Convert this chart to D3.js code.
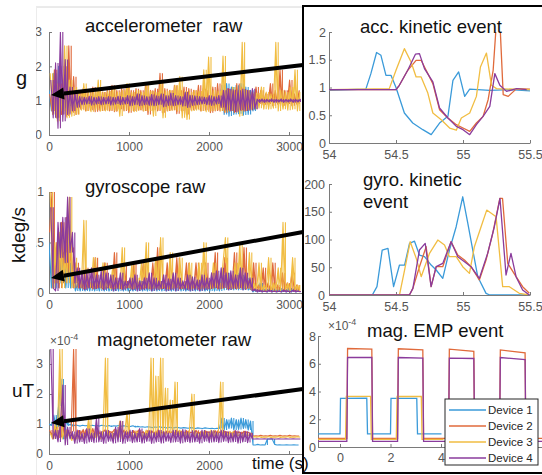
<!DOCTYPE html>
<html><head><meta charset="utf-8">
<script src="https://cdn.jsdelivr.net/npm/d3@7"></script>
<style>body{margin:0;background:#fff}svg{display:block}</style>
</head><body><svg id="c" width="542" height="475"></svg>
<script>
// ---------------- DATA ----------------
const devices = ["Device 1","Device 2","Device 3","Device 4"];
const colors  = ["#3a9ad9","#e06a3b","#f1bd42","#8a3b9c"];
const rawTimeStep = 30;                 // seconds between raw samples
const deviceTimeOffset = [0,7.5,15,22.5]; // devices are not sample-synchronised
const rawTicks = [0,1000,2000,3000];

// accelerometer raw (g)
const accRaw1 = [1.3,0.7,1.8,0.5,2.0,0.6,1.5,0.8,1.2,0.85,1.1,0.9,1.08,0.92,1.06,0.93,1.08,0.92,1.07,0.93,1.08,0.92,1.06,0.94,1.08,0.92,1.06,0.93,1.08,0.92,1.07,0.93,1.08,0.92,1.06,0.94,1.1,0.9,1.08,0.92,1.1,0.9,1.08,0.92,1.1,0.9,1.08,0.92,1.1,0.9,1.08,0.92,1.1,0.9,1.08,0.92,1.1,0.9,1.08,0.92,1.08,0.92,1.07,0.93,1.08,0.92,1.07,0.93,1.08,0.92,1.1,0.85,1.45,0.6,1.5,0.55,1.4,0.6,1.45,0.62,1.5,0.58,1.4,0.6,1.3,0.7,1.05,0.96,1.04,0.96,1.05,0.95,1.04,0.96,1.05,0.95,1.04,0.96,1.05,0.95,1.04,0.96,1.05,0.95,1.04];
const accRaw2 = [1.2,0.7,1.9,0.5,1.5,0.6,2.0,0.55,2.6,0.65,1.7,0.6,1.3,0.75,1.35,0.7,1.25,0.72,1.4,0.68,1.3,0.7,1.25,0.72,1.3,0.7,1.45,0.68,1.3,0.75,1.35,0.7,1.4,0.65,1.3,0.7,1.35,0.72,1.3,0.7,1.5,0.6,1.3,0.72,1.35,0.7,1.8,0.65,1.35,0.7,1.3,0.72,1.45,0.62,1.3,0.7,1.4,0.6,1.35,0.72,1.3,0.75,1.45,0.7,1.35,0.72,1.3,0.65,1.4,0.7,1.5,0.7,1.3,0.65,1.35,0.7,1.3,0.65,1.5,0.7,1.4,0.7,1.3,0.75,1.2,0.85,1.4,0.9,1.3,0.88,1.2,0.9,1.5,0.85,1.3,0.9,1.9,0.85,1.3,0.9,1.6,0.85,1.2,0.9,1.3];
const accRaw3 = [1.8,0.6,1.5,0.4,1.4,0.7,2.6,0.5,1.6,0.55,1.4,0.6,1.28,0.72,1.5,0.7,1.25,0.68,1.3,0.72,1.6,0.7,1.25,0.7,1.28,0.72,1.4,0.7,1.25,0.55,1.3,0.72,1.5,0.7,1.25,0.68,1.3,0.72,1.25,0.7,1.5,0.7,1.28,0.55,1.25,0.72,1.6,0.5,1.28,0.7,1.3,0.72,1.45,0.7,1.7,0.5,1.28,0.45,1.25,0.7,1.3,0.72,1.28,0.7,1.9,0.68,2.27,0.7,1.3,0.72,1.28,0.7,2.3,0.68,1.3,0.7,1.4,0.72,1.3,0.55,2.7,0.7,1.3,0.72,1.25,0.75,1.22,0.78,1.4,0.75,1.25,0.75,1.2,0.78,2.7,0.7,1.3,0.75,1.25,0.72,1.4,0.75,1.9,0.7,1.25];
const accRaw4 = [1.6,0.5,2.1,0.2,3.0,0.4,2.2,0.6,1.4,0.7,1.25,0.8,1.12,0.88,1.1,0.9,1.13,0.87,1.1,0.9,1.12,0.88,1.1,0.9,1.12,0.87,1.1,0.9,1.13,0.88,1.1,0.9,1.15,0.85,1.12,0.88,1.2,0.85,1.15,0.88,1.12,0.86,1.18,0.85,1.14,0.88,1.2,0.82,1.15,0.86,1.22,0.85,1.15,0.88,1.12,0.84,1.25,0.8,1.16,0.86,1.14,0.88,1.12,0.9,1.1,0.88,1.15,0.86,1.12,0.9,1.15,0.8,1.3,0.72,1.35,0.7,1.32,0.68,1.3,0.72,1.34,0.7,1.3,0.72,1.35,0.75,1.05,0.95,1.05,0.95,1.04,0.96,1.05,0.95,1.04,0.96,1.05,0.95,1.04,0.96,1.05,0.95,1.04,0.96,1.05];

// gyroscope raw (kdeg/s)
const gyrRaw1 = [0.5,0.05,0.45,0.05,0.55,0.1,0.4,0.05,0.3,0.05,0.15,0.02,0.1,0.02,0.12,0.02,0.1,0.02,0.12,0.02,0.1,0.02,0.12,0.02,0.1,0.02,0.08,0.02,0.1,0.02,0.12,0.02,0.1,0.02,0.08,0.02,0.1,0.02,0.12,0.02,0.1,0.02,0.08,0.02,0.1,0.02,0.12,0.02,0.1,0.02,0.08,0.02,0.1,0.02,0.12,0.02,0.1,0.02,0.08,0.02,0.1,0.02,0.12,0.02,0.1,0.02,0.08,0.02,0.1,0.02,0.12,0.02,0.18,0.03,0.2,0.03,0.15,0.03,0.2,0.03,0.18,0.03,0.15,0.03,0.05,0.01,0.04,0.01,0.1,0.01,0.04,0.01,0.05,0.01,0.04,0.01,0.05,0.01,0.04,0.01,0.05,0.01,0.04,0.01,0.05];
const gyrRaw2 = [0.6,1.0,0.1,0.5,0.05,0.7,0.1,0.75,0.2,0.45,0.05,0.3,0.05,0.12,0.04,0.25,0.05,0.1,0.04,0.35,0.05,0.1,0.04,0.3,0.05,0.12,0.04,0.4,0.05,0.1,0.04,0.3,0.05,0.12,0.04,0.3,0.05,0.1,0.04,0.3,0.05,0.12,0.04,0.3,0.05,0.45,0.04,0.1,0.05,0.3,0.04,0.12,0.05,0.35,0.04,0.1,0.05,0.3,0.04,0.12,0.05,0.3,0.04,0.1,0.05,0.3,0.04,0.12,0.05,0.4,0.04,0.1,0.05,0.35,0.04,0.12,0.05,0.4,0.04,0.1,0.05,0.45,0.04,0.12,0.03,0.3,0.02,0.08,0.03,0.25,0.02,0.1,0.03,0.3,0.02,0.08,0.03,0.2,0.02,0.1,0.03,0.2,0.02,0.08,0.02];
const gyrRaw3 = [1.0,0.05,0.5,0.1,0.6,0.05,0.4,0.1,0.95,0.05,0.35,0.1,0.12,0.05,0.72,0.1,0.15,0.05,0.35,0.08,0.12,0.05,0.3,0.06,0.1,0.04,0.25,0.05,0.12,0.04,0.45,0.06,0.1,0.05,0.28,0.04,0.15,0.05,0.3,0.06,0.5,0.04,0.12,0.05,0.35,0.04,0.55,0.05,0.1,0.04,0.4,0.05,0.12,0.06,0.35,0.04,0.1,0.05,0.3,0.04,0.12,0.05,0.3,0.04,0.5,0.05,0.12,0.04,0.3,0.06,0.1,0.04,0.3,0.55,0.05,0.12,0.04,0.3,0.05,0.5,0.04,0.12,0.05,0.4,0.04,0.1,0.03,0.3,0.02,0.08,0.03,0.35,0.02,0.1,0.03,0.25,0.02,0.7,0.03,0.1,0.02,0.35,0.03,0.08,0.02];
const gyrRaw4 = [0.85,0.05,0.02,0.7,0.35,0.75,0.3,0.95,0.4,0.6,0.1,0.25,0.05,0.22,0.03,0.2,0.05,0.25,0.04,0.18,0.05,0.22,0.03,0.2,0.05,0.18,0.02,0.15,0.04,0.2,0.03,0.12,0.05,0.15,0.03,0.18,0.02,0.12,0.03,0.15,0.04,0.2,0.02,0.15,0.03,0.12,0.04,0.18,0.02,0.14,0.03,0.2,0.02,0.15,0.04,0.12,0.03,0.18,0.02,0.16,0.03,0.13,0.02,0.18,0.03,0.15,0.04,0.2,0.05,0.22,0.04,0.25,0.05,0.2,0.03,0.22,0.04,0.18,0.05,0.25,0.03,0.2,0.05,0.15,0.02,0.04,0.01,0.03,0.01,0.02,0.01,0.03,0.01,0.02,0.01,0.02,0.01,0.03,0.01,0.02,0.01,0.03,0.01,0.02,0.01];

// magnetometer raw (x1e-4 uT)
const magRaw1 = [1.0,0.95,1.3,0.9,1.6,2.5,0.5,1.1,0.95,1.0,0.93,0.97,0.95,0.93,0.96,0.94,0.95,0.93,0.96,0.94,0.95,0.93,0.96,0.94,0.93,0.95,0.92,0.94,0.93,0.95,0.92,0.94,0.93,0.91,0.92,0.94,0.9,0.92,0.9,0.91,0.89,0.91,0.9,0.88,0.9,0.89,0.91,0.88,0.89,0.87,0.89,0.88,0.87,0.89,0.88,0.86,0.88,0.87,0.86,0.88,0.87,0.85,0.87,0.86,0.85,0.87,0.86,0.85,0.86,0.84,0.86,0.85,1.2,0.8,1.15,0.85,1.2,0.8,1.15,0.82,1.2,0.85,1.15,0.8,1.1,0.3,0.3,0.32,0.3,0.31,0.3,0.5,0.5,0.5,0.32,0.3,0.31,0.3,0.3,0.31,0.3,0.3,0.31,0.3,0.3];
const magRaw2 = [0.8,0.6,0.75,0.9,0.55,1.3,0.6,0.8,0.65,0.75,3.5,0.6,0.78,0.65,0.82,0.62,0.75,0.68,0.85,0.6,0.78,0.66,0.74,0.8,0.65,0.76,0.7,0.82,0.62,0.76,0.68,0.8,0.64,0.74,0.7,0.78,0.66,0.8,0.68,0.75,0.63,0.79,0.7,0.76,0.64,0.8,0.68,0.74,0.65,0.78,0.7,0.74,0.63,0.8,0.67,0.75,0.64,0.78,0.7,0.73,0.66,0.79,0.68,0.74,0.64,0.77,0.7,0.75,0.66,0.78,0.69,0.74,0.66,0.76,0.7,0.73,0.66,0.77,0.68,0.74,0.66,0.76,0.7,0.72,0.62,0.6,0.61,0.6,0.62,0.6,0.61,0.6,0.62,0.6,0.61,0.6,0.62,0.6,0.61,0.6,0.62,0.6,0.61,0.6,0.6];
const magRaw3 = [0.7,0.5,1.0,0.55,3.5,0.5,0.8,0.55,0.7,0.45,0.65,0.5,0.7,0.5,0.65,0.55,1.2,0.5,0.7,0.55,0.65,0.5,0.75,3.2,0.55,0.7,0.5,0.8,0.55,1.1,0.5,0.7,1.4,0.55,0.7,0.5,0.75,0.55,0.7,0.5,0.8,0.55,3.2,0.6,2.6,0.55,3.2,0.6,2.2,0.7,1.8,0.55,2.4,0.6,0.8,0.55,0.7,0.5,0.75,2.0,0.55,0.7,0.5,0.75,0.55,0.7,0.5,0.8,0.55,0.7,0.6,2.4,0.55,0.7,0.6,0.75,0.55,0.7,0.6,0.65,0.55,0.7,0.6,0.65,0.55,0.58,0.56,0.58,0.55,0.57,0.56,0.58,0.55,0.57,0.56,0.58,0.55,0.57,0.56,0.58,0.55,0.57,0.56,0.58,0.56];
const magRaw4 = [3.5,0.5,0.8,0.4,1.0,2.3,0.3,0.9,0.5,0.75,0.35,0.8,0.4,0.7,0.35,0.85,0.4,0.7,0.38,1.2,0.4,0.75,0.35,0.8,0.42,0.7,0.36,0.9,0.4,1.1,0.35,0.75,0.42,0.8,0.38,0.7,0.4,0.85,0.36,0.7,0.42,0.78,0.35,0.72,0.4,0.8,0.36,0.75,0.42,0.7,0.38,0.8,0.4,0.75,0.36,0.82,0.4,0.72,0.38,0.78,0.4,0.7,0.36,0.8,0.42,0.74,0.38,0.78,0.4,0.72,0.38,0.8,0.42,0.75,0.38,0.7,0.4,0.78,0.36,0.72,0.4,0.76,0.38,0.7,0.5,0.5,0.51,0.5,0.5,0.51,0.5,0.5,0.51,0.5,0.5,0.51,0.5,0.5,0.51,0.5,0.5,0.51,0.5,0.5,0.5];

// acc. kinetic event [time s, g]
const accEvt1 = [[54,0.95],[54.275,0.97],[54.3125,1.25],[54.355,1.63],[54.3875,1.58],[54.425,1.22],[54.4625,1.22],[54.5,1.0],[54.5625,0.54],[54.625,0.36],[54.7,0.24],[54.7625,0.15],[54.825,0.36],[54.8875,0.48],[54.925,1.13],[54.9675,1.28],[55.0125,0.84],[55.05,0.97],[55.2,0.95],[55.35,0.96],[55.5,0.94]];
const accEvt2 = [[54,0.96],[54.5,0.96],[54.525,1.04],[54.5875,1.31],[54.65,1.49],[54.6875,1.49],[54.725,1.31],[54.775,1.07],[54.825,0.6],[54.8875,0.45],[54.95,0.33],[55.0,0.27],[55.05,0.21],[55.1,0.36],[55.15,0.48],[55.1875,0.78],[55.225,1.31],[55.25,2.2],[55.275,2.2],[55.3,0.87],[55.3375,0.84],[55.4,0.98],[55.5,0.97]];
const accEvt3 = [[54,0.96],[54.45,0.98],[54.5,1.31],[54.5625,1.7],[54.6125,1.46],[54.65,1.19],[54.6875,1.19],[54.7375,0.9],[54.775,0.54],[54.8375,0.42],[54.9,0.27],[54.95,0.23],[54.9875,0.45],[55.05,0.54],[55.1,0.84],[55.13,1.37],[55.175,1.62],[55.2125,1.04],[55.25,0.98],[55.5,0.96]];
const accEvt4 = [[54,0.96],[54.5,0.96],[54.525,1.04],[54.5875,1.31],[54.645,1.6],[54.675,1.61],[54.7125,1.34],[54.775,1.1],[54.825,0.63],[54.8875,0.45],[54.95,0.3],[55.0,0.24],[55.05,0.15],[55.1,0.33],[55.15,0.48],[55.2,0.66],[55.2375,1.25],[55.275,1.04],[55.325,0.93],[55.4,0.98],[55.475,0.96]];

// gyro. kinetic event [time s, deg/s]
const gyrEvt1 = [[54,0],[54.323,0],[54.358,15],[54.397,81],[54.44,84],[54.482,15],[54.526,54],[54.564,54],[54.601,93],[54.638,97],[54.675,72],[54.713,69],[54.762,54],[54.8,45],[54.849,30],[54.899,81],[54.949,123],[54.998,177],[55.036,129],[55.073,81],[55.11,33],[55.172,3],[55.2,0],[55.5,0]];
const gyrEvt2 = [[54,0],[54.6,0],[54.626,12],[54.675,51],[54.725,87],[54.762,15],[54.8,51],[54.849,51],[54.911,96],[54.961,72],[55.011,63],[55.06,51],[55.122,27],[55.172,63],[55.222,111],[55.275,174],[55.295,174],[55.334,57],[55.396,33],[55.445,15],[55.495,3]];
const gyrEvt3 = [[54,0],[54.526,0],[54.564,45],[54.606,96],[54.651,66],[54.688,33],[54.75,75],[54.812,99],[54.862,90],[54.899,69],[54.949,69],[54.998,51],[55.048,39],[55.085,87],[55.135,123],[55.177,153],[55.247,141],[55.296,15],[55.346,15],[55.42,3],[55.495,0]];
const gyrEvt4 = [[54,0],[54.6,0],[54.626,12],[54.675,81],[54.718,93],[54.762,15],[54.8,51],[54.849,57],[54.911,96],[54.961,69],[55.011,60],[55.06,51],[55.122,30],[55.184,75],[55.234,123],[55.276,174],[55.321,36],[55.358,75],[55.396,33],[55.445,9],[55.495,0]];

// mag. EMP event [time s, x1e-4]
const magEvt1 = [[-0.9,0.95],[0,0.95],[0.02,3.5],[1.06,3.52],[1.09,0.95],[2.0,0.95],[2.02,3.5],[3.04,3.5],[3.07,0.95],[4.02,0.95]];
const magEvt2 = [[-0.9,0.62],[0.27,0.62],[0.3,7.1],[1.26,7.05],[1.29,0.62],[2.28,0.62],[2.31,7.08],[3.28,7.0],[3.31,0.62],[4.3,0.62],[4.33,7.05],[5.3,6.9],[5.33,0.62],[6.32,0.62],[6.35,7.0],[7.33,6.78],[7.36,0.62],[8.1,0.62]];
const magEvt3 = [[-0.9,0.55],[0.22,0.55],[0.25,3.65],[1.21,3.65],[1.24,0.55],[2.23,0.55],[2.26,3.65],[3.22,3.64],[3.25,0.55],[4.1,0.55]];
const magEvt4 = [[-0.9,0.4],[0.27,0.4],[0.3,6.45],[1.26,6.45],[1.29,0.4],[2.28,0.4],[2.31,6.45],[3.28,6.4],[3.31,0.4],[4.3,0.4],[4.33,6.4],[5.3,6.38],[5.33,0.4],[6.32,0.4],[6.35,6.45],[7.33,6.3],[7.36,0.4],[8.1,0.4]];

// ---------------- DRAW ----------------
const FONT = '"Liberation Sans", Arial, Helvetica, sans-serif';
const AX = "#7a7a7a", TX = "#555";
const svg = d3.select("#c");
const defs = svg.append("defs");
let clipN = 0;
function clip(x,y,w,h){ const id="cp"+(clipN++); defs.append("clipPath").attr("id",id).append("rect").attr("x",x).attr("y",y).attr("width",w).attr("height",h); return `url(#${id})`; }
function styleAxis(g, fs){
  g.attr("font-family",FONT).attr("font-size",fs);
  g.select(".domain").attr("stroke",AX);
  g.selectAll(".tick line").attr("stroke",AX);
  g.selectAll(".tick text").attr("fill",TX);
}
function title(g, txt, x, y){ g.append("text").attr("x",x).attr("y",y).attr("font-family",FONT).attr("font-size",18.5).attr("fill","#111").style("white-space","pre").text(txt); }
function expo(g, x, y){
  const t = g.append("text").attr("x",x).attr("y",y).attr("font-family",FONT).attr("font-size",12).attr("fill",TX);
  t.append("tspan").text("×10");
  t.append("tspan").attr("dy",-5).attr("font-size",9).text("-4");
}

// left raw panels
const xRaw = d3.scaleLinear().domain([0,4000]).range([49,369]);
const leftG = svg.append("g").attr("clip-path", clip(36,0,267,475));
leftG.append("line").attr("x1",36).attr("x2",303).attr("y1",7).attr("y2",7).attr("stroke","#d6d6d6");
leftG.append("line").attr("x1",36.5).attr("x2",36.5).attr("y1",7).attr("y2",475).attr("stroke","#ececec");

const leftPanels = [
  {series:[accRaw1,accRaw2,accRaw3,accRaw4], dom:[0,3], rng:[135,32], yt:[0,1,2,3], yfmt:d3.format("d"), ypad:7, xpad:7, xfmt:d=>d, t:"accelerometer  raw", tx:85, ty:32},
  {series:[gyrRaw1,gyrRaw2,gyrRaw3,gyrRaw4], dom:[0,1], rng:[293,192], yt:[0,0.5,1], yfmt:d=>String(d), ypad:5, xpad:7, xfmt:d=>d, t:"gyroscope raw", tx:85, ty:193},
  {series:[magRaw1,magRaw2,magRaw3,magRaw4], dom:[0,3.5], rng:[454,349], yt:[0,1,2,3], yfmt:d3.format("d"), ypad:6, xpad:7, xfmt:d=>d===3000?"":d, t:"magnetometer raw", tx:97, ty:346}
];
leftPanels.forEach(p=>{
  const y = d3.scaleLinear().domain(p.dom).range(p.rng);
  const ax = leftG.append("g").attr("transform",`translate(0,${p.rng[0]})`)
    .call(d3.axisBottom(xRaw).tickValues(rawTicks).tickFormat(p.xfmt).tickSizeInner(-3).tickSizeOuter(0).tickPadding(p.xpad));
  styleAxis(ax,12);
  const ay = leftG.append("g").attr("transform",`translate(${xRaw(0)},0)`)
    .call(d3.axisLeft(y).tickValues(p.yt).tickFormat(p.yfmt).tickSizeInner(-3).tickSizeOuter(0).tickPadding(p.ypad));
  styleAxis(ay,12);
  const dg = leftG.append("g").attr("clip-path", clip(49,p.rng[1],254,p.rng[0]-p.rng[1]));
  p.series.forEach((s,k)=>{
    const tx = i => xRaw(i*rawTimeStep + deviceTimeOffset[k]);
    // dense trace: each sample as a vertical stroke from the previous value, plus the connecting line
    const strokes = s.slice(1).map((v,i)=>`M${tx(i+1)},${y(s[i])}V${y(v)}`).join("");
    const conn = d3.line().x((d,i)=>tx(i)).y(d=>y(d))(s);
    dg.append("path").attr("d",strokes+conn).attr("fill","none").attr("stroke",colors[k]).attr("stroke-width",1.1).attr("stroke-linejoin","round");
  });
  title(leftG, p.t, p.tx, p.ty);
});
expo(leftG, 50, 345);

// axis labels on left
svg.append("text").attr("x",16).attr("y",85).attr("font-family",FONT).attr("font-size",20).attr("fill","#111").text("g");
svg.append("text").attr("transform","translate(25,235) rotate(-90)").attr("text-anchor","middle").attr("font-family",FONT).attr("font-size",19).attr("fill","#111").text("kdeg/s");
svg.append("text").attr("x",12).attr("y",397).attr("font-family",FONT).attr("font-size",19).attr("fill","#111").text("uT");

// right framed box
svg.append("rect").attr("x",303).attr("y",6).attr("width",260).attr("height",467).attr("fill","#fff").attr("stroke","#000").attr("stroke-width",2);

// arrows (annotations)
const arrows = [[303,65,51,95],[303,232,51,278],[303,389,51,423]];
arrows.forEach(([x1,y1,x2,y2])=>{
  const a = Math.atan2(y2-y1,x2-x1), L=13, W=6;
  const bx = x2 - L*Math.cos(a), by = y2 - L*Math.sin(a);
  svg.append("line").attr("x1",x1).attr("y1",y1).attr("x2",bx).attr("y2",by).attr("stroke","#000").attr("stroke-width",4);
  const pts = [[x2,y2],[bx+W*Math.sin(a),by-W*Math.cos(a)],[bx-W*Math.sin(a),by+W*Math.cos(a)]];
  svg.append("polygon").attr("points",pts.map(p=>p.join(",")).join(" ")).attr("fill","#000");
});

// right panels
const rightG = svg.append("g");
const xEvt = d3.scaleLinear().domain([54,55.5]).range([329,530]);
const rightPanels = [
  {series:[accEvt1,accEvt2,accEvt3,accEvt4], dom:[0,2], rng:[143,32], yt:[0,0.5,1,1.5,2], ypad:3, xpad:7},
  {series:[gyrEvt1,gyrEvt2,gyrEvt3,gyrEvt4], dom:[0,200], rng:[295,184], yt:[0,50,100,150,200], ypad:4, xpad:7}
];
rightPanels.forEach(p=>{
  const y = d3.scaleLinear().domain(p.dom).range(p.rng);
  const ax = rightG.append("g").attr("transform",`translate(0,${p.rng[0]})`)
    .call(d3.axisBottom(xEvt).tickValues([54,54.5,55,55.5]).tickFormat(d=>String(d)).tickSizeInner(-3).tickSizeOuter(0).tickPadding(p.xpad));
  styleAxis(ax,12.5);
  const ay = rightG.append("g").attr("transform",`translate(${xEvt(54)},0)`)
    .call(d3.axisLeft(y).tickValues(p.yt).tickFormat(d=>String(d)).tickSizeInner(-3).tickSizeOuter(0).tickPadding(p.ypad));
  styleAxis(ay,12.5);
  const dg = rightG.append("g").attr("clip-path", clip(329,p.rng[1],203,p.rng[0]-p.rng[1]));
  const line = d3.line().x(d=>xEvt(d[0])).y(d=>y(d[1]));
  p.series.forEach((s,k)=>{
    dg.append("path").datum(s).attr("d",line).attr("fill","none").attr("stroke",colors[k]).attr("stroke-width",1.3).attr("stroke-linejoin","round");
  });
});
title(rightG,"acc. kinetic event",360,33);
const gt = rightG.append("text").attr("font-family",FONT).attr("font-size",18.5).attr("fill","#111");
gt.append("tspan").attr("x",363).attr("y",186).text("gyro. kinetic");
gt.append("tspan").attr("x",363).attr("y",208).text("event");

// mag EMP panel
const xMag = d3.scaleLinear().domain([0,4]).range([340,441]);
const yMag = d3.scaleLinear().domain([0,8]).range([447,336]);
const mx = rightG.append("g").attr("transform","translate(0,447)")
  .call(d3.axisBottom(xMag.copy().domain([xMag.invert(318),xMag.invert(545)]).range([318,545])).tickValues([0,2,4]).tickSizeInner(-3).tickSizeOuter(0).tickPadding(6));
styleAxis(mx,12.5);
const my = rightG.append("g").attr("transform","translate(318,0)")
  .call(d3.axisLeft(yMag).tickValues([0,2,4,6,8]).tickSizeInner(-3).tickSizeOuter(0).tickPadding(2));
styleAxis(my,12.5);
const mg = rightG.append("g").attr("clip-path", clip(318,336,230,111));
const mline = d3.line().x(d=>xMag(d[0])).y(d=>yMag(d[1]));
[magEvt1,magEvt2,magEvt3,magEvt4].forEach((s,k)=>{
  mg.append("path").datum(s).attr("d",mline).attr("fill","none").attr("stroke",colors[k]).attr("stroke-width",1.3);
});
title(rightG,"mag. EMP event",367,337);
expo(rightG,328,330);

// legend
const lg = rightG.append("g");
lg.append("rect").attr("x",445).attr("y",399).attr("width",93).attr("height",66).attr("fill","#fff").attr("stroke","#262626").attr("stroke-width",1);
devices.forEach((d,i)=>{
  const yy = 410 + i*16;
  lg.append("line").attr("x1",449).attr("x2",486).attr("y1",yy).attr("y2",yy).attr("stroke",colors[i]).attr("stroke-width",1.3);
  lg.append("text").attr("x",488).attr("y",yy).attr("dy","0.35em").attr("font-family",FONT).attr("font-size",11.5).attr("fill","#262626").text(d);
});

// x label of bottom-left plot
svg.append("text").attr("x",252).attr("y",469).attr("font-family",FONT).attr("font-size",17).attr("fill","#111").text("time (s)");
</script></body></html>
